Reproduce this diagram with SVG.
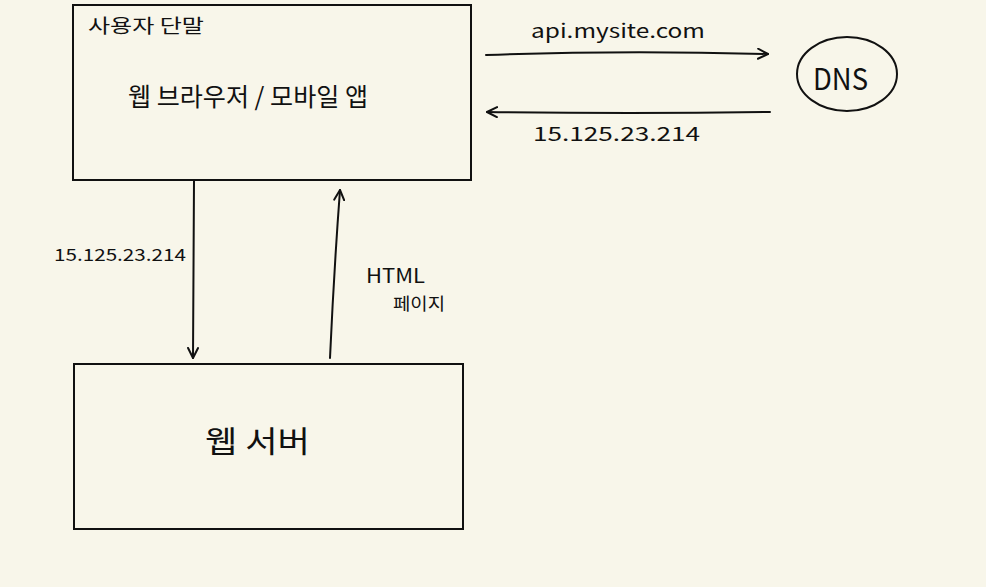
<svg xmlns="http://www.w3.org/2000/svg" width="986" height="587" viewBox="0 0 986 587">
<defs>
<style>
.box{fill:none;stroke:#111;stroke-width:2}
.ln{fill:none;stroke:#111;stroke-width:2;stroke-linecap:round;stroke-linejoin:round}
.t{font-family:"Noto Sans CJK KR","Noto Sans",sans-serif;fill:#111}
</style>
<marker id="ah" viewBox="0 0 12 12" refX="11" refY="6" markerWidth="12" markerHeight="12" markerUnits="userSpaceOnUse" orient="auto">
<path d="M1,1 L11,6 L1,11" fill="none" stroke="#111" stroke-width="2" stroke-linecap="round" stroke-linejoin="round"/>
</marker>
</defs>
<rect width="986" height="587" fill="#f8f6ea"/>
<g id="client">
<rect class="box" x="73" y="5" width="398" height="175"/>
<text class="t" x="88" y="33" font-size="19" textLength="116" lengthAdjust="spacingAndGlyphs">사용자 단말</text>
<text class="t" x="128" y="106" font-size="25" textLength="240" lengthAdjust="spacingAndGlyphs">웹 브라우저 / 모바일 앱</text>
</g>
<g id="dns">
<ellipse cx="847" cy="74" rx="50" ry="37" class="box"/>
<text class="t" x="813" y="90" font-size="30" textLength="55" lengthAdjust="spacingAndGlyphs">DNS</text>
</g>
<g id="webserver">
<rect class="box" x="74" y="364" width="389" height="165"/>
<text class="t" x="205" y="452" font-size="30" textLength="105" lengthAdjust="spacingAndGlyphs">웹 서버</text>
</g>
<g id="connectors">
<path class="ln" d="M486,55 Q620,50 768,54" marker-end="url(#ah)"/>
<path class="ln" d="M770,112 Q630,114 487,112" marker-end="url(#ah)"/>
<path class="ln" d="M194,181 L193,358" marker-end="url(#ah)"/>
<path class="ln" d="M330,358 Q334,270 340,190" marker-end="url(#ah)"/>
<text class="t" x="531" y="38" font-size="19" textLength="174" lengthAdjust="spacingAndGlyphs">api.mysite.com</text>
<text class="t" x="533" y="141" font-size="19" textLength="167" lengthAdjust="spacingAndGlyphs">15.125.23.214</text>
<text class="t" x="54" y="261" font-size="17" textLength="132" lengthAdjust="spacingAndGlyphs">15.125.23.214</text>
<text class="t" x="366" y="283" font-size="20" textLength="59" lengthAdjust="spacingAndGlyphs">HTML</text>
<text class="t" x="393" y="310" font-size="17" textLength="52" lengthAdjust="spacingAndGlyphs">페이지</text>
</g>
</svg>
